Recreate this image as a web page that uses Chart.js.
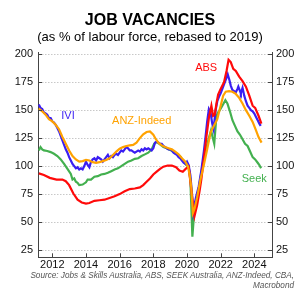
<!DOCTYPE html>
<html><head><meta charset="utf-8">
<script src="https://cdn.jsdelivr.net/npm/chart.js@4.4.1/dist/chart.umd.min.js"></script>
<style>
html,body{margin:0;padding:0;background:#fff;}
#wrap{position:relative;width:300px;height:300px;overflow:hidden;}
#c{position:absolute;left:0;top:0;}
.src{position:absolute;right:6px;font:italic 8.2px "Liberation Sans",Arial,sans-serif;color:#555;white-space:nowrap;text-align:right;line-height:10px;}
</style></head><body>
<div id="wrap"><canvas id="c" width="300" height="300"></canvas>
<div class="src" style="top:271px">Source: Jobs &amp; Skills Australia, ABS, SEEK Australia, ANZ-Indeed, CBA,</div>
<div class="src" style="top:281px">Macrobond</div>
</div>
<script>
// ---- data ----
const seriesNames = ['IVI', 'ANZ-Indeed', 'ABS', 'Seek'];
const xTicks = [2012, 2014, 2016, 2018, 2020, 2022, 2024];
const yTicks = [25, 50, 75, 100, 125, 150, 175, 200];

const absYears = [2011.2,2011.5,2011.85,2012.25,2012.6,2012.8,2013.0,2013.25,2013.5,2013.75,2014.0,2014.2,2014.5,2014.8,2015.1,2015.4,2015.7,2016.0,2016.3,2016.6,2016.9,2017.2,2017.4,2017.6,2017.8,2018.0,2018.2,2018.4,2018.6,2018.85,2019.1,2019.35,2019.55,2019.75,2019.95,2020.1,2020.3,2020.45,2020.6,2020.75,2020.85,2021.0,2021.15,2021.3,2021.45,2021.55,2021.65,2021.75,2021.85,2022.0,2022.2,2022.35,2022.47,2022.6,2022.75,2022.9,2023.1,2023.3,2023.5,2023.7,2023.9,2024.05,2024.25,2024.42];
const absValues = [93.5,92,89.5,88,88,86.5,83,75.5,70,67.5,66.5,67,69,69.5,70,71.5,73,75,77.5,79.5,80,81,83,86,89,92.5,95,97.5,99.5,100.5,100.5,99,96,95,98,99.5,73,55.5,65,78,88,106,126,143,154,145,146,156,164,169,175,185,195,193,187,185,180,176,171,163,154,152,145,138];

const iviYears = [2011.2,2011.3,2011.4,2011.5,2011.6,2011.7,2011.8,2011.9,2012.0,2012.1,2012.2,2012.3,2012.4,2012.5,2012.6,2012.7,2012.8,2012.9,2013.0,2013.1,2013.2,2013.3,2013.4,2013.5,2013.6,2013.7,2013.8,2013.9,2014.0,2014.1,2014.2,2014.3,2014.4,2014.5,2014.6,2014.7,2014.8,2014.9,2015.0,2015.1,2015.2,2015.3,2015.4,2015.5,2015.6,2015.7,2015.8,2015.9,2016.0,2016.1,2016.2,2016.3,2016.4,2016.5,2016.6,2016.7,2016.8,2016.9,2017.0,2017.1,2017.2,2017.3,2017.4,2017.5,2017.6,2017.7,2017.8,2017.9,2018.0,2018.1,2018.2,2018.3,2018.4,2018.5,2018.6,2018.7,2018.8,2018.9,2019.0,2019.1,2019.2,2019.3,2019.4,2019.5,2019.6,2019.7,2019.8,2019.9,2020.0,2020.1,2020.2,2020.3,2020.37,2020.45,2020.55,2020.7,2020.85,2021.0,2021.1,2021.2,2021.3,2021.4,2021.5,2021.58,2021.7,2021.8,2021.9,2022.0,2022.1,2022.2,2022.3,2022.42,2022.52,2022.6,2022.7,2022.8,2022.9,2023.0,2023.05,2023.15,2023.2,2023.3,2023.4,2023.5,2023.6,2023.7,2023.8,2023.9,2024.0,2024.1,2024.2,2024.3,2024.38];
const iviValues = [155,152,151,148,147,146,143,143,140,139,137,134,131,127,123,119,115,112,108,105,102,100,98,99,97,98,97,100,104,101,99,104,106,107,105,108,107,106,104,106,108,110,107,109,108,110,111,110,112,114,113,115,117,116,114,114,113,112,113,114,113,115,114,116,115,116,115,114,116,121,122,121,120,120,118,117,116,115,115,114,112,111,110,108,107,105,103,102,104,101,92,75,59,66,73,82,96,113,126,140,151,148,138,133,150,158,162,165,169,173,177,182,177,172,168,167,166,169,171,167,165,170,163,158,154,152,150,149,147,144,141,138,136];

const anzYears = [2011.2,2011.4,2011.6,2011.8,2012.0,2012.2,2012.4,2012.6,2012.8,2013.0,2013.2,2013.4,2013.6,2013.8,2014.0,2014.2,2014.4,2014.6,2014.8,2015.0,2015.2,2015.4,2015.6,2015.8,2016.0,2016.2,2016.4,2016.6,2016.8,2017.0,2017.2,2017.4,2017.6,2017.8,2018.0,2018.15,2018.3,2018.5,2018.7,2018.9,2019.1,2019.3,2019.5,2019.7,2019.9,2020.05,2020.15,2020.25,2020.35,2020.45,2020.6,2020.8,2021.0,2021.2,2021.4,2021.6,2021.8,2022.0,2022.15,2022.3,2022.5,2022.7,2022.9,2023.1,2023.3,2023.5,2023.7,2023.9,2024.1,2024.25,2024.43];
const anzValues = [151.5,149,146,142,140,137,133,126,120,114,109,106,104,104.5,105.5,105,103.5,103,103.5,104.5,105.5,107,110,113,115.5,117,118,118.5,119,121,125,128.5,130.5,131,128,124,121,118.5,117,116,115,113,110.5,107,104,100,93,82,58,62,72,88,101,115,130,136,142,154,163,166.5,167,166.5,164.5,161,156,150,145,139.5,132,126,121];

const seekYears = [2011.2,2011.3,2011.4,2011.5,2011.7,2011.9,2012.1,2012.3,2012.5,2012.7,2012.9,2013.1,2013.2,2013.3,2013.4,2013.5,2013.6,2013.8,2014.0,2014.1,2014.3,2014.5,2014.7,2014.9,2015.1,2015.3,2015.5,2015.7,2015.9,2016.1,2016.3,2016.5,2016.7,2016.9,2017.1,2017.3,2017.5,2017.7,2017.9,2018.05,2018.2,2018.4,2018.6,2018.8,2019.0,2019.2,2019.4,2019.6,2019.8,2019.95,2020.1,2020.2,2020.32,2020.42,2020.55,2020.7,2020.85,2021.0,2021.15,2021.3,2021.43,2021.52,2021.62,2021.75,2021.85,2021.95,2022.1,2022.28,2022.4,2022.55,2022.7,2022.85,2023.0,2023.15,2023.3,2023.45,2023.6,2023.75,2023.9,2024.05,2024.2,2024.3,2024.4];
const seekValues = [114,117,115,114,113.5,112.5,111,109,106,102,97.5,93,88,89,86,85,83,83.5,85.5,88,88,90.5,91,92.5,93,94,95.5,97,98,100,102,104,105,106.5,107,109,110.5,112,115,120,121.5,119.5,117,116,114.5,112.5,111,108.5,104,101,99.5,88,37,57,67,80,94,107,116,125,132,126,120,145,148,150,154,159,156,149,141,136,131,128,124,120,118,113,108,106,103,101,98];

// ---- styling ----
const FONT = '"Liberation Sans", Arial, Helvetica, sans-serif';
const C_IVI = '#3a1ef2', C_ANZ = '#ffa200', C_ABS = '#ff0a0a', C_SEEK = '#43b04f';
const pts = (xs, ys) => xs.map((x, i) => ({x, y: ys[i]}));

const innerTicks = {
  id: 'innerTicks',
  afterDraw(chart) {
    const {ctx, chartArea: a, scales: {x, y}} = chart;
    ctx.save();
    ctx.strokeStyle = '#444'; ctx.lineWidth = 1;
    ctx.beginPath();
    yTicks.forEach(v => {
      const py = Math.round(y.getPixelForValue(v)) + 0.5;
      ctx.moveTo(a.left, py); ctx.lineTo(a.left + 4, py);
      ctx.moveTo(a.right, py); ctx.lineTo(a.right - 4, py);
    });
    xTicks.forEach(v => {
      const px = Math.round(x.getPixelForValue(v)) + 0.5;
      ctx.moveTo(px, a.bottom); ctx.lineTo(px, a.bottom - 4);
    });
    ctx.stroke();
    ctx.restore();
  }
};

const seriesLabels = {
  id: 'seriesLabels',
  afterDatasetsDraw(chart, args, opts) {
    const {ctx, scales: {x, y}} = chart;
    ctx.save();
    ctx.font = '11px ' + FONT;
    ctx.textAlign = 'center'; ctx.textBaseline = 'middle';
    opts.items.forEach(it => {
      ctx.fillStyle = it.color;
      ctx.fillText(it.text, x.getPixelForValue(it.x), y.getPixelForValue(it.y));
    });
    ctx.restore();
  }
};

const yAxisBase = {
  type: 'linear', min: 18.5, max: 202,
  afterBuildTicks: s => { s.ticks = yTicks.map(v => ({value: v})); },
  border: {display: true, color: '#444', width: 1, dash: [1.5, 1.5]},
  ticks: {color: '#111', font: {family: FONT, size: 11}, autoSkip: false}
};

new Chart(document.getElementById('c'), {
  type: 'line',
  data: {
    datasets: [
      {label: seriesNames[1], data: pts(anzYears, anzValues), borderColor: C_ANZ, order: 0},
      {label: seriesNames[2], data: pts(absYears, absValues), borderColor: C_ABS, order: 1},
      {label: seriesNames[0], data: pts(iviYears, iviValues), borderColor: C_IVI, order: 2},
      {label: seriesNames[3], data: pts(seekYears, seekValues), borderColor: C_SEEK, order: 3}
    ]
  },
  options: {
    responsive: false, animation: false,
    layout: {padding: {left: 0, right: 0, top: 0, bottom: 22.7}},
    elements: {point: {radius: 0}, line: {borderWidth: 2.2, tension: 0, fill: false}},
    plugins: {
      legend: {display: false}, tooltip: {enabled: false},
      title: {display: true, text: 'JOB VACANCIES', color: '#000',
        font: {family: FONT, size: 16, weight: 'bold'}, padding: {top: 10.9, bottom: 0}},
      subtitle: {display: true, text: '(as % of labour force, rebased to 2019)', color: '#000',
        font: {family: FONT, size: 13}, padding: {top: 0, bottom: 6.3}},
      seriesLabels: {items: [
        {text: seriesNames[0], x: 2012.93, y: 144.6, color: C_IVI},
        {text: seriesNames[1], x: 2017.31, y: 140.2, color: C_ANZ},
        {text: seriesNames[2], x: 2021.14, y: 188.1, color: C_ABS},
        {text: seriesNames[3], x: 2024.0, y: 88.4, color: C_SEEK}
      ]}
    },
    scales: {
      x: {
        type: 'linear', min: 2011.15, max: 2025.05,
        afterBuildTicks: s => { s.ticks = xTicks.map(v => ({value: v})); },
        grid: {display: false, drawTicks: false},
        border: {display: true, color: '#444', width: 1},
        ticks: {color: '#111', font: {family: FONT, size: 11}, padding: 1.5, maxRotation: 0, autoSkip: false,
          callback: v => String(v)},
        afterFit: s => { s.height = 20; }
      },
      y: Object.assign({}, yAxisBase, {
        position: 'left',
        grid: {display: true, color: '#c8c8c8', lineWidth: 1, drawTicks: false},
        ticks: Object.assign({}, yAxisBase.ticks, {padding: 5}),
        afterFit: s => { s.width = 38; }
      }),
      y2: Object.assign({}, yAxisBase, {
        position: 'right',
        grid: {display: false, drawTicks: false},
        ticks: Object.assign({}, yAxisBase.ticks, {padding: 4}),
        afterFit: s => { s.width = 28; }
      })
    }
  },
  plugins: [innerTicks, seriesLabels]
});
</script>
</body></html>
